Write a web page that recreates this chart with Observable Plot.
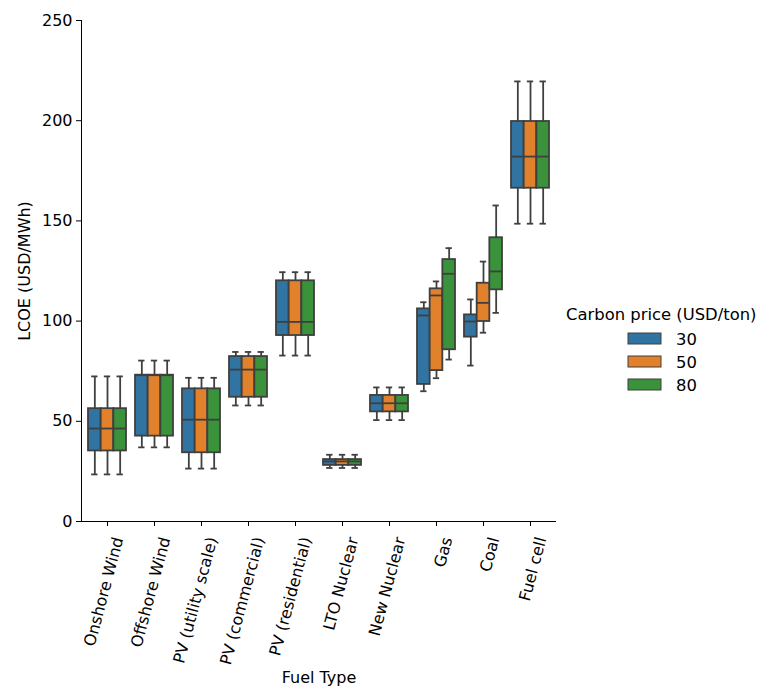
<!DOCTYPE html>
<html><head><meta charset="utf-8">
<script src="https://cdn.jsdelivr.net/npm/d3@7"></script>
<script src="https://cdn.jsdelivr.net/npm/@observablehq/plot@0.6"></script>
<style>
body{margin:0;background:#fff;}
#wrap{position:relative;width:759px;height:688px;font-family:"DejaVu Sans",sans-serif;}
#legend{position:absolute;left:0;top:0;pointer-events:none;}
</style></head><body><div id="wrap"></div>
<script>
const fuelTypes = ["Onshore Wind","Offshore Wind","PV (utility scale)","PV (commercial)","PV (residential)","LTO Nuclear","New Nuclear","Gas","Coal","Fuel cell"];
const carbonPrices = ["30","50","80"];
const colors = ["#3274a1","#e1812c","#3a923a"];
const yTicks = [0,50,100,150,200,250];
// per fuel type: [30, 50, 80]
const whiskerLow = [[23.5,23.5,23.5],[37.0,37.0,37.0],[26.4,26.4,26.4],[57.9,57.9,57.9],[82.8,82.8,82.8],[26.7,26.7,26.7],[50.6,50.6,50.6],[65.0,71.5,80.8],[77.8,94.2,104.1],[148.6,148.6,148.6]];
const q1 = [[35.2,35.2,35.2],[42.6,42.6,42.6],[34.3,34.3,34.3],[62.0,62.0,62.0],[92.8,92.8,92.8],[28.0,28.0,28.0],[54.7,54.7,54.7],[68.4,75.3,85.7],[92.0,99.8,115.6],[166.3,166.3,166.3]];
const median = [[46.4,46.4,46.4],[73.0,73.0,73.0],[50.8,50.8,50.8],[75.8,75.8,75.8],[99.6,99.6,99.6],[30.0,30.0,30.0],[59.0,59.0,59.0],[102.8,112.8,123.6],[99.8,109.1,124.8],[182.1,182.1,182.1]];
const q3 = [[56.3,56.3,56.3],[73.0,73.0,73.0],[66.2,66.2,66.2],[82.3,82.3,82.3],[120.1,120.1,120.1],[30.9,30.9,30.9],[62.9,62.9,62.9],[106.1,116.1,130.7],[103.1,118.9,141.6],[199.6,199.6,199.6]];
const whiskerHigh = [[72.4,72.4,72.4],[80.3,80.3,80.3],[71.7,71.7,71.7],[84.6,84.6,84.6],[124.4,124.4,124.4],[33.3,33.3,33.3],[66.9,66.9,66.9],[109.4,119.8,136.4],[110.8,129.7,157.7],[219.6,219.6,219.6]];

const rows = fuelTypes.flatMap((f, i) => carbonPrices.map((p, j) => ({
  fuel: f, price: p, lo: whiskerLow[i][j], q1: q1[i][j], med: median[i][j], q3: q3[i][j], hi: whiskerHigh[i][j]
})));

const edge = "#3f3f3f";
const sw = 1.8;
const bw = 38 / 3;
const marks = [];
carbonPrices.forEach((p, j) => {
  const d = rows.filter(r => r.price === p);
  const off = (j - 1) * bw;
  const inL = j * bw, inR = (2 - j) * bw;
  const cap = bw / 4;
  marks.push(
    Plot.ruleX(d, {x: "fuel", y1: "lo", y2: "q1", dx: off, stroke: edge, strokeWidth: sw}),
    Plot.ruleX(d, {x: "fuel", y1: "q3", y2: "hi", dx: off, stroke: edge, strokeWidth: sw}),
    Plot.tickY(d, {x: "fuel", y: "lo", insetLeft: inL + cap, insetRight: inR + cap, stroke: edge, strokeWidth: sw}),
    Plot.tickY(d, {x: "fuel", y: "hi", insetLeft: inL + cap, insetRight: inR + cap, stroke: edge, strokeWidth: sw}),
    Plot.barY(d, {x: "fuel", y1: "q1", y2: "q3", fill: "price", insetLeft: inL, insetRight: inR, stroke: edge, strokeWidth: sw}),
    Plot.tickY(d, {x: "fuel", y: "med", insetLeft: inL, insetRight: inR, stroke: edge, strokeWidth: sw})
  );
});

const chart = Plot.plot({
  width: 759, height: 688,
  marginLeft: 81, marginRight: 203, marginTop: 20, marginBottom: 167,
  style: {fontFamily: "DejaVu Sans", fontSize: "16px", color: "black", background: "white", overflow: "visible"},
  x: {domain: fuelTypes, paddingInner: 0.2, paddingOuter: 0.1},
  y: {domain: [0, 250], ticks: yTicks, tickSize: 5, tickPadding: 4, line: true, label: "LCOE (USD/MWh)", labelArrow: "none", labelAnchor: "center", labelOffset: 63},
  color: {domain: carbonPrices, range: colors},
  marks: [
    Plot.ruleY([0], {stroke: "black", strokeWidth: 1}),
    Plot.axisX({tickSize: 5, fill: "none", label: null}),
    Plot.axisX({tickSize: 0, tickPadding: 16, tickRotate: -75, dx: 11, label: "Fuel Type", labelArrow: "none", labelAnchor: "center", labelOffset: 161}),
    ...marks
  ]
});
const wrap = document.getElementById("wrap");
wrap.appendChild(chart);

// legend
const leg = d3.select(wrap).append("svg").attr("id", "legend").attr("width", 759).attr("height", 688)
  .style("font-family", "DejaVu Sans").style("font-size", "16.4px");
leg.append("text").attr("x", 566).attr("y", 320).text("Carbon price (USD/ton)");
carbonPrices.forEach((p, j) => {
  const cy = 338.5 + j * 23;
  leg.append("rect").attr("x", 628).attr("y", cy - 5.5).attr("width", 33).attr("height", 11)
    .attr("fill", colors[j]).attr("stroke", edge).attr("stroke-width", 1);
  leg.append("text").attr("x", 676).attr("y", cy + 6).text(p);
});
</script></body></html>
